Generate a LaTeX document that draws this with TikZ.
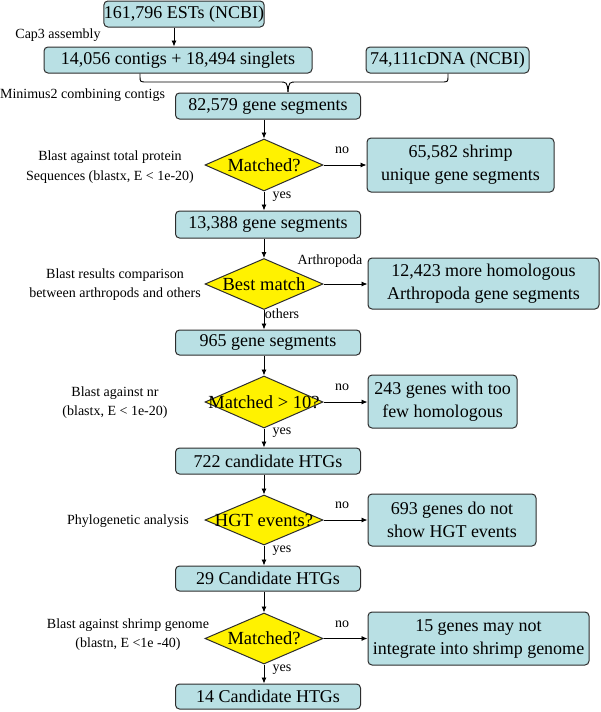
\documentclass[tikz,border=0pt]{standalone}
\usepackage{fontspec}
\setmainfont{Liberation Serif}
\usetikzlibrary{shapes.geometric,arrows.meta,calc}
\definecolor{boxfill}{RGB}{185,224,228}
\definecolor{boxline}{RGB}{45,45,45}
\begin{document}
\begin{tikzpicture}[x=1pt,y=-1pt,
 box/.style={draw=boxline,line width=1pt,fill=boxfill,rounded corners=4pt,inner sep=0pt,align=center,font=\fontsize{18}{23}\selectfont},
 dia/.style={diamond,draw=boxline,line width=1pt,fill=yellow,inner sep=0pt,minimum width=118pt,minimum height=52pt},
 dtext/.style={font=\fontsize{18.5}{22}\selectfont,inner sep=0pt},
 lab/.style={font=\fontsize{14}{19.5}\selectfont,align=center,inner sep=0pt},
 arr/.style={-{Latex[length=6pt,width=5pt]},line width=0.9pt},
 con/.style={line width=0.9pt},
]
\useasboundingbox (0,0) rectangle (600,712);

% top boxes
\node[box,minimum width=160pt,minimum height=26pt] (b1) at (184,14) {161,796 ESTs (NCBI)};
\node[box,minimum width=268pt,minimum height=26pt] (b2) at (178,60) {14,056 contigs + 18,494 singlets};
\node[box,minimum width=163pt,minimum height=26pt] (b3) at (447.5,60) {74,111cDNA (NCBI)};
\node[box,minimum width=185pt,minimum height=26pt] (b4) at (268,106) {82,579 gene segments};

\draw[arr] ([xshift=-10pt]b1.south) -- ([xshift=-4pt]b2.north);
\node[lab] at (58,35) {Cap3 assembly};
\node[lab] at (82.5,95) {Minimus2 combining contigs};

% brace
\coordinate (bl) at ([xshift=-38pt]b2.south);
\coordinate (br) at ([xshift=0.5pt]b3.south);
\coordinate (bt) at (288,92);
\draw[con] (bl) -- (140,76) .. controls (140,82) .. (147,82) -- (279,82) .. controls (287,82) .. (bt);
\draw[con] (br) -- (448,76) .. controls (448,82) .. (441,82) -- (297,82) .. controls (289,82) .. (bt);

% step 1
\node[dia] (d1) at (264,165) {};
\node[dtext] at (d1) {Matched?};
\node[box,minimum width=187pt,minimum height=54pt] (r1) at (460.5,165) {65,582 shrimp\\unique gene segments};
\node[box,minimum width=185pt,minimum height=27pt] (b5) at (268,224.5) {13,388 gene segments};
\draw[arr] ([xshift=-4pt]b4.south) -- (d1.north);
\draw[arr] (d1.east) -- (r1.west);
\draw[arr] (d1.south) -- ([xshift=-4pt]b5.north);
\node[lab] at (110,167) {Blast against total protein\\Sequences (blastx, E < 1e-20)};
\node[lab] at (342,150) {no};
\node[lab] at (282,197) {yes};

% step 2
\node[dia,minimum height=51pt] (d2) at (264,284) {};
\node[dtext] at (d2) {Best match};
\node[box,minimum width=231pt,minimum height=51pt] (r2) at (483.5,283.5) {12,423 more homologous\\Arthropoda gene segments};
\node[box,minimum width=185pt,minimum height=25pt] (b6) at (268,342.5) {965 gene segments};
\draw[arr] ([xshift=-4pt]b5.south) -- (d2.north);
\draw[arr] (d2.east) -- (d2.east -| r2.west);
\draw[arr] (d2.south) -- ([xshift=-4pt]b6.north);
\node[lab] at (115,284.5) {Blast results comparison\\between arthropods and others};
\node[lab] at (330,261) {Arthropoda};
\node[lab] at (282,314) {others};

% step 3
\node[dia] (d3) at (264,402) {};
\node[dtext] at (d3) {Matched > 10?};
\node[box,minimum width=149pt,minimum height=53pt] (r3) at (442.5,401.5) {243 genes with too\\few homologous};
\node[box,minimum width=185pt,minimum height=26pt] (b7) at (268,461) {722 candidate HTGs};
\draw[arr] ([xshift=-4pt]b6.south) -- (d3.north);
\draw[arr] (d3.east) -- (d3.east -| r3.west);
\draw[arr] (d3.south) -- ([xshift=-4pt]b7.north);
\node[lab] at (115,402.5) {Blast against nr\\(blastx, E < 1e-20)};
\node[lab] at (342,387) {no};
\node[lab] at (282,433) {yes};

% step 4
\node[dia,minimum height=50pt] (d4) at (264,520) {};
\node[dtext] at (d4) {HGT events?};
\node[box,minimum width=168pt,minimum height=52pt] (r4) at (452,520) {693 genes do not\\show HGT events};
\node[box,minimum width=185pt,minimum height=25pt] (b8) at (268,578.5) {29 Candidate HTGs};
\draw[arr] ([xshift=-4pt]b7.south) -- (d4.north);
\draw[arr] (d4.east) -- (r4.west);
\draw[arr] (d4.south) -- ([xshift=-4pt]b8.north);
\node[lab] at (128,521) {Phylogenetic analysis};
\node[lab] at (342,505) {no};
\node[lab] at (282,551) {yes};

% step 5
\node[dia,minimum height=51pt] (d5) at (264,638.5) {};
\node[dtext] at (d5) {Matched?};
\node[box,minimum width=221pt,minimum height=53pt] (r5) at (478.5,638.5) {15 genes may not\\integrate into shrimp genome};
\node[box,minimum width=185pt,minimum height=25pt] (b9) at (268,696.5) {14 Candidate HTGs};
\draw[arr] ([xshift=-4pt]b8.south) -- (d5.north);
\draw[arr] (d5.east) -- (r5.west);
\draw[arr] (d5.south) -- ([xshift=-4pt]b9.north);
\node[lab] at (128,634.5) {Blast against shrimp genome\\(blastn, E <1e -40)};
\node[lab] at (342,624) {no};
\node[lab] at (282,670) {yes};
\end{tikzpicture}
\end{document}
